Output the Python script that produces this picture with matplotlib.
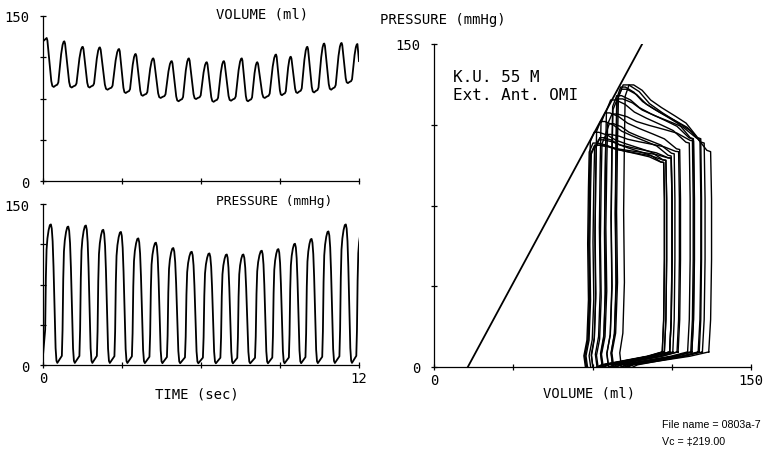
import numpy as np
import matplotlib.pyplot as plt

# beat-by-beat values (s, ml, mmHg)
vol_peak_t = [0.14, 0.81, 1.51, 2.16, 2.89, 3.52, 4.19, 4.89, 5.54, 6.22,
              6.87, 7.55, 8.14, 8.85, 9.41, 10.04, 10.68, 11.34, 11.94]
vol_peak = [130, 127, 122, 121.5, 120, 115.5, 111.5, 109, 111.5, 108,
            109, 111.5, 108, 115, 113, 122, 125, 125.5, 124.5]
vol_trough = [85.5, 85, 85, 83, 80, 77.5, 75.5, 72.5, 74.5, 72,
              73, 72.5, 75.5, 78, 80, 80.5, 83, 89]
vol_start = 127
vol_end = 109

pres_peak_t = [0.30, 0.96, 1.63, 2.29, 2.96, 3.62, 4.29, 4.95, 5.65, 6.32,
               6.98, 7.61, 8.31, 8.94, 9.57, 10.20, 10.84, 11.50, 12.13]
pres_peak = [131, 129, 130, 126, 124, 118, 114, 109, 105.5, 104,
             103, 103, 106.5, 108, 113, 117.5, 124.5, 131, 127]
pres_start = 9

# P-V plane: Emax line and pressure at the end-diastolic corner of each loop
emax_v = [16, 98.5]
emax_p = [0, 150]
loop_shoulder = [100, 104, 106, 106, 104, 101, 98, 96, 97, 95,
                 96, 97, 95, 100, 99, 105, 106, 106]

# shape of one beat (phase from one peak to the next, fraction of swing)
VOL_SHAPE = [(0.00, 1.00), (0.04, 0.95), (0.10, 0.72), (0.18, 0.40), (0.26, 0.12),
             (0.32, 0.02), (0.40, 0.00), (0.50, 0.03), (0.60, 0.05), (0.66, 0.10),
             (0.74, 0.40), (0.82, 0.72), (0.90, 0.92), (0.96, 0.99)]
PRES_SHAPE = [(0.00, 1.00), (0.05, 0.97), (0.10, 0.88), (0.15, 0.70), (0.21, 0.40),
              (0.27, 0.12), (0.32, 0.03), (0.37, 0.015), (0.45, 0.03), (0.55, 0.05),
              (0.63, 0.065), (0.67, 0.25), (0.71, 0.62), (0.75, 0.82), (0.80, 0.90),
              (0.87, 0.96), (0.94, 0.995)]

# volume trace
vt, vv = [0.0], [vol_start]
for i in range(len(vol_peak_t) - 1):
    T = vol_peak_t[i + 1] - vol_peak_t[i]
    for ph, lv in VOL_SHAPE:
        top = vol_peak[i] if ph <= 0.40 else vol_peak[i + 1]
        vt.append(vol_peak_t[i] + ph * T)
        vv.append(vol_trough[i] + lv * (top - vol_trough[i]))
vt += [vol_peak_t[-1], 12.0]
vv += [vol_peak[-1], vol_end]

# pressure trace
pt, pp = [0.0], [pres_start]
T0 = pres_peak_t[1] - pres_peak_t[0]
for ph, lv in PRES_SHAPE:
    if ph > 0.64:
        pt.append(pres_peak_t[0] - (1 - ph) * T0)
        pp.append(max(lv * pres_peak[0], pres_start))
for i in range(len(pres_peak_t) - 1):
    T = pres_peak_t[i + 1] - pres_peak_t[i]
    for ph, lv in PRES_SHAPE:
        top = pres_peak[i] if ph <= 0.63 else pres_peak[i + 1]
        pt.append(pres_peak_t[i] + ph * T)
        pp.append(lv * top)
pt.append(pres_peak_t[-1])
pp.append(pres_peak[-1])

# loop outline: (fraction of stroke volume, pressure)
RIGHT = [(1.00, 7), (1.02, 22), (1.03, 50), (1.03, 78)]
TOP = [(1.02, 0.0), (0.98, 0.02), (0.83, 0.29), (0.69, 0.42), (0.51, 0.58),
       (0.37, 0.72), (0.26, 0.90), (0.15, 1.00), (0.09, 1.00)]
LEFT = [(0.04, 0.96), (0.03, 0.80), (0.02, 0.55), (0.03, 0.30), (0.01, 0.12), (-0.03, 0.05)]
BOTTOM = [(-0.01, 0), (0.05, -1.5), (0.20, 1), (0.50, 3), (0.80, 5), (1.00, 7)]


def pv_loop(edv, esv, pmax, ps):
    u, p = [], []
    for a, b in RIGHT:
        u.append(a); p.append(min(b, ps - 12))
    for a, w in TOP:
        u.append(a); p.append(ps + (pmax - ps) * w)
    for a, f in LEFT:
        u.append(a); p.append(f * pmax)
    for a, b in BOTTOM:
        u.append(a); p.append(b)
    u = np.array(u)
    return esv + u * (edv - esv), np.array(p)


MONO = 'DejaVu Sans Mono'
plt.rcParams['font.family'] = MONO
plt.rcParams['font.size'] = 10

W, H = 763, 456
fig = plt.figure(figsize=(W / 100, H / 100), dpi=100)


def px_axes(x0, y0, x1, y1):
    return fig.add_axes([x0 / W, 1 - y1 / H, (x1 - x0) / W, (y1 - y0) / H])


def style(ax):
    for s in ('top', 'right'):
        ax.spines[s].set_visible(False)
    for s in ('left', 'bottom'):
        ax.spines[s].set_linewidth(0.9)
    ax.tick_params(which='both', direction='inout', length=4, width=0.9,
                   labelsize=10, colors='black')
    ax.set_facecolor('none')


ax1 = px_axes(43, 17, 359, 182)
ax1.plot(vt, vv, color='black', lw=1.3)
ax1.set_xlim(0, 12)
ax1.set_ylim(0, 150)
ax1.set_xticks([0, 3, 6, 9, 12])
ax1.set_xticklabels([])
ax1.set_yticks([0, 150])
ax1.set_yticks([37.5, 75, 112.5], minor=True)
style(ax1)
ax1.tick_params(axis='y', pad=8)

ax2 = px_axes(43, 205, 359, 366)
ax2.plot(pt, pp, color='black', lw=1.3)
ax2.set_xlim(0, 12)
ax2.set_ylim(0, 150)
ax2.set_xticks([0, 12])
ax2.set_xticks([3, 6, 9], minor=True)
ax2.set_yticks([0, 150])
ax2.set_yticks([37.5, 75, 112.5], minor=True)
style(ax2)
ax2.tick_params(axis='y', pad=8)
ax2.tick_params(axis='x', pad=2)

ax3 = px_axes(434, 45, 751, 368)
ax3.plot(emax_v, emax_p, color='black', lw=1.3)
for i in range(len(vol_trough)):
    lv_, lp_ = pv_loop(vol_peak[i], vol_trough[i], pres_peak[i], loop_shoulder[i])
    ax3.plot(lv_, lp_, color='black', lw=1.0)
ax3.set_xlim(0, 150)
ax3.set_ylim(0, 150)
ax3.set_xticks([0, 150])
ax3.set_xticks([37.5, 75, 112.5], minor=True)
ax3.set_yticks([0, 150])
ax3.set_yticks([37.5, 75, 112.5], minor=True)
style(ax3)
ax3.tick_params(axis='y', pad=8)
ax3.tick_params(axis='x', pad=2)


def ftext(x, y, s, ha='center', **kw):
    fig.text(x / W, 1 - y / H, s, ha=ha, va='center', **kw)


ftext(262, 15, 'VOLUME (ml)')
ftext(274, 202, 'PRESSURE (mmHg)', fontsize=9.3)
ftext(197, 395, 'TIME (sec)')
ftext(380, 20, 'PRESSURE (mmHg)', ha='left')
ftext(589, 394, 'VOLUME (ml)')
ftext(453, 77, 'K.U. 55 M', ha='left', fontsize=11.5)
ftext(453, 95, 'Ext. Ant. OMI', ha='left', fontsize=11.5)
ftext(662, 425, 'File name = 0803a-7', ha='left', family='Liberation Sans', fontsize=7.7)
ftext(662, 442, 'Vc = \u2021219.00', ha='left', family='Liberation Sans', fontsize=7.7)

fig.savefig('out.png', dpi=100)
